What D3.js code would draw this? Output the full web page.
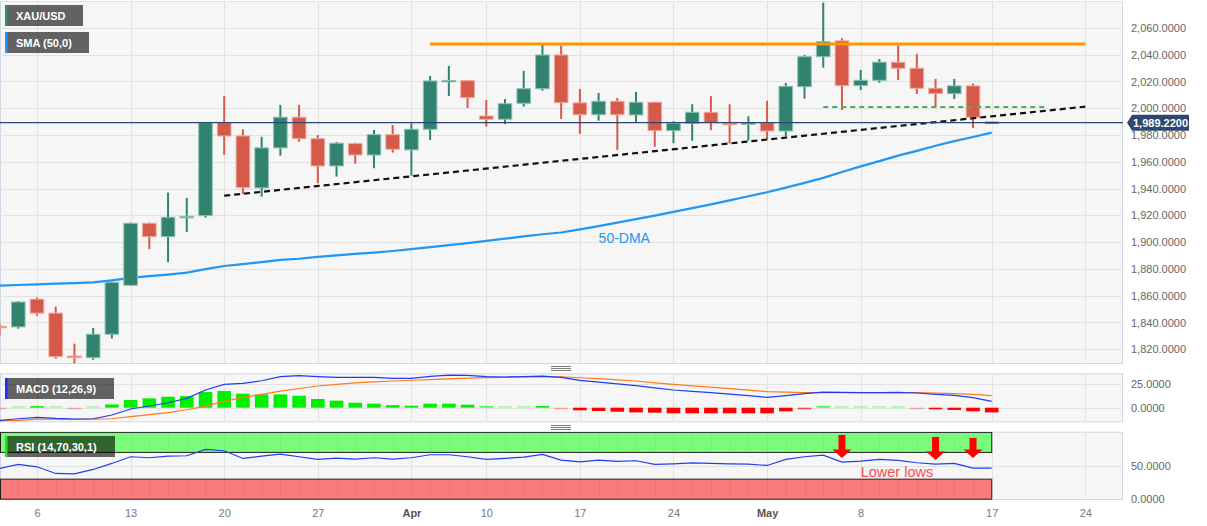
<!DOCTYPE html>
<html><head><meta charset="utf-8">
<script src="https://cdn.jsdelivr.net/npm/d3@7"></script>
<style>
html,body{margin:0;padding:0;background:#fff;}
svg{display:block;font-family:"Liberation Sans",Arial,sans-serif;}
</style></head>
<body><svg id="c" width="1207" height="526"></svg>
<script>
// ---------------- DATA ----------------
const dates = ["2023-03-02","2023-03-03","2023-03-06","2023-03-07","2023-03-08","2023-03-09","2023-03-10",
"2023-03-13","2023-03-14","2023-03-15","2023-03-16","2023-03-17","2023-03-20","2023-03-21","2023-03-22","2023-03-23","2023-03-24",
"2023-03-27","2023-03-28","2023-03-29","2023-03-30","2023-03-31","2023-04-03","2023-04-04","2023-04-05","2023-04-06",
"2023-04-10","2023-04-11","2023-04-12","2023-04-13","2023-04-14","2023-04-17","2023-04-18","2023-04-19","2023-04-20","2023-04-21",
"2023-04-24","2023-04-25","2023-04-26","2023-04-27","2023-04-28","2023-05-01","2023-05-02","2023-05-03","2023-05-04","2023-05-05",
"2023-05-08","2023-05-09","2023-05-10","2023-05-11","2023-05-12","2023-05-15","2023-05-16","2023-05-17"];
const futureDates = ["2023-05-18","2023-05-19","2023-05-22","2023-05-23","2023-05-24"];

const open  = [1837.2,1836.7,1857.4,1847.0,1814.9,1813.7,1831.2,1867.8,1914.1,1904.1,1918.6,1919.8,1989.2,1979.3,1940.5,1970.4,1993.3,
1977.3,1956.9,1973.6,1965.1,1980.3,1968.9,1984.3,2020.2,2020.6,1994.2,1991.8,2003.7,2014.6,2039.8,2004.0,1995.2,2005.2,1995.0,2004.5,
1983.3,1988.8,1997.0,1988.8,1988.0,1989.2,1983.0,2016.1,2038.5,2050.3,2016.9,2020.9,2034.4,2029.9,2014.9,2010.9,2016.7,1989.22];
const high  = [1839.4,1856.0,1858.6,1851.8,1824.2,1835.9,1870.5,1914.6,1914.6,1937.0,1933.0,1989.5,2009.2,1984.3,1978.6,2002.5,2002.5,
1980.0,1974.8,1974.3,1983.8,1987.5,1988.8,2024.1,2031.6,2021.1,2006.2,2006.9,2027.9,2047.3,2046.8,2014.4,2011.4,2007.7,2012.2,2004.7,
1990.3,2003.0,2009.0,2003.0,1994.0,2005.5,2018.9,2039.8,2078.9,2052.3,2028.6,2036.8,2046.8,2040.6,2021.9,2021.9,2018.4,1989.22];
const low   = [1830.2,1835.4,1845.1,1813.0,1809.5,1812.2,1828.0,1867.3,1894.9,1885.2,1907.6,1918.3,1965.3,1935.8,1934.0,1964.6,1975.0,
1944.0,1949.0,1958.6,1955.2,1966.8,1949.7,1976.3,2009.2,2000.2,1986.3,1988.3,2001.2,2013.1,1992.0,1980.8,1990.7,1968.9,1989.8,1971.3,
1973.9,1975.8,1983.6,1973.6,1975.8,1977.1,1978.8,2007.2,2030.3,1998.7,2013.7,2019.1,2021.1,2010.7,2000.7,2006.9,1985.3,1989.22];
const close = [1836.6,1855.3,1847.0,1814.5,1814.2,1831.2,1870.0,1914.1,1904.1,1918.6,1919.3,1989.2,1979.3,1940.7,1970.4,1993.3,1977.3,
1956.9,1973.9,1965.1,1980.3,1969.4,1984.3,2020.4,2020.8,2007.9,1991.8,2003.4,2014.6,2039.8,2004.2,1995.2,2005.2,1995.2,2004.5,1983.3,
1988.8,1997.0,1989.2,1988.0,1989.0,1983.0,2016.4,2038.5,2049.7,2016.9,2020.9,2034.4,2029.9,2014.9,2010.9,2016.7,1993.3,1989.22];

const sma50 = [1867.5,1868.0,1868.5,1869.0,1869.4,1870.0,1871.5,1873.3,1874.6,1875.8,1877.2,1879.8,1882.2,1883.6,1885.1,1886.8,1887.6,
1889.0,1890.1,1891.2,1892.2,1893.4,1894.8,1896.3,1897.8,1899.3,1900.9,1902.6,1904.3,1905.9,1907.2,1909.5,1912.0,1914.6,1917.2,1919.8,
1922.6,1925.4,1928.2,1931.2,1934.3,1937.3,1940.7,1944.3,1948.0,1952.4,1956.6,1960.5,1964.6,1968.2,1972.0,1975.4,1978.5,1981.8];

const macdLine = [-13.5,-11.8,-10.3,-11.5,-12.1,-11.8,-7.8,-1.4,1.8,5.3,10.0,18.9,24.9,26.0,28.8,33.1,34.2,
33.1,32.4,32.4,32.4,31.3,31.3,33.5,34.9,34.5,33.1,32.8,33.1,33.8,32.4,29.2,27.4,25.5,23.5,21.2,
18.9,17.5,16.0,14.5,12.8,11.0,12.8,15.0,16.7,16.3,16.0,16.0,16.4,15.7,14.2,13.2,10.7,6.8];
const signalLine = [-13.8,-13.5,-12.2,-12.3,-12.4,-12.3,-11.8,-9.6,-7.5,-5.2,-2.2,1.6,6.8,11.0,14.2,17.8,20.5,
23.2,25.0,26.6,27.6,28.5,29.3,29.9,30.9,31.6,32.2,32.5,32.8,33.0,32.9,32.0,31.0,29.8,28.5,26.6,
24.9,23.4,21.9,20.3,18.7,17.1,16.7,16.2,16.2,16.1,16.1,16.0,16.0,16.0,15.6,15.0,14.2,12.8];
const histogram = [-0.5,0.5,1.5,0.3,-0.3,0.3,3.5,8.2,10.0,11.7,12.4,16.7,17.8,15.0,14.2,14.2,12.8,
9.3,7.5,5.3,4.3,2.8,2.1,4.3,4.3,3.2,1.0,0.3,0.2,1.8,-0.5,-2.8,-3.5,-4.3,-5.0,-5.3,
-6.0,-6.0,-6.0,-6.0,-6.0,-6.0,-3.9,-1.0,0.8,0.3,0.0,0.2,0.2,-0.5,-1.7,-2.4,-3.9,-5.0];

const rsi = [46,52,48.5,38.5,38,44.5,53.5,63.5,62,64.5,65,74.5,72.5,61,64.5,67.5,63.5,
59.5,61.5,60,62,60,62,66.5,66.5,63.5,59.5,61,63,67,58.5,56,58.5,56.5,57.5,52,
53,54.5,53.5,53,52.5,50.5,59.5,63.5,66,55.5,57,59.5,58,54.5,52.5,53.5,46.5,46.5];

const priceTicks = [1820,1840,1860,1880,1900,1920,1940,1960,1980,2000,2020,2040,2060];
const macdTicks = [0,25];
const rsiTicks = [0,50];
const tickDates = ["2023-03-06","2023-03-13","2023-03-20","2023-03-27","2023-04-03","2023-04-10","2023-04-17","2023-04-24","2023-05-01","2023-05-08","2023-05-17","2023-05-24"];
const tickLabels = ["6","13","20","27","Apr","10","17","24","May","8","17","24"];

const lastPrice = 1989.22;
const resistance = {from:"2023-04-04", to:"2023-05-24", value:2048};
const trendline = {from:"2023-03-20", to:"2023-05-24", v0:1934.7, v1:2001.2};
const support = {from:"2023-05-04", to:"2023-05-22", value:2001};
const arrowDates = ["2023-05-05","2023-05-12","2023-05-16"];
const arrowTop = [96,93,91.5];
const arrowTip = [61.5,58.5,61.5];

// ---------------- LAYOUT ----------------
const svg = d3.select("#c");
const L = 0, R = 1123;
const P = {main:[1,364], macd:[373.3,422.3], rsi:[431.7,500]};
const allDates = dates.concat(futureDates);
const step = 18.72;
const x = d3.scalePoint().domain(allDates).range([37-2*step, 37-2*step+(allDates.length-1)*step]);
const bw = 13.6;

const yMain = d3.scaleLinear().domain([1809, 2080.1]).range([P.main[1], P.main[0]]);
const yMacd = d3.scaleLinear().domain([-15.6, 36.75]).range([P.macd[1], P.macd[0]]);
const yRsi = d3.scaleLinear().domain([-1.2, 101]).range([P.rsi[1], P.rsi[0]]);

const BG = "#f6f6f6", BORDER = "#cfd6e4", GRID = "#e2e2e2";
const GREEN = "#31826f", RED = "#d65a49", NAVY = "#2c4870";

const defs = svg.append("defs");
function panel(name, top, bottom){
  defs.append("clipPath").attr("id","clip-"+name).append("rect")
    .attr("x",L).attr("y",top).attr("width",R-L).attr("height",bottom-top);
  svg.append("rect").attr("x",L+0.5).attr("y",top+0.5).attr("width",R-L-1).attr("height",bottom-top-1)
    .attr("fill",BG).attr("stroke",BORDER);
  const g = svg.append("g").attr("clip-path","url(#clip-"+name+")");
  g.selectAll("line.vg").data(tickDates).join("line").attr("class","vg")
    .attr("x1",d=>Math.round(x(d))+0.5).attr("x2",d=>Math.round(x(d))+0.5)
    .attr("y1",top).attr("y2",bottom).attr("stroke",GRID).attr("stroke-width",1);
  return g;
}

// ---------- MAIN PANEL ----------
const gm = panel("main", P.main[0], P.main[1]);
gm.selectAll("line.hg").data(priceTicks.concat([2080])).join("line").attr("class","hg")
  .attr("x1",L).attr("x2",R).attr("y1",d=>Math.round(yMain(d))+0.5).attr("y2",d=>Math.round(yMain(d))+0.5)
  .attr("stroke",GRID);

// SMA
gm.append("path").datum(sma50.map((v,i)=>[dates[i],v]))
  .attr("d", d3.line().x(d=>x(d[0])).y(d=>yMain(d[1])))
  .attr("fill","none").attr("stroke","#2196f3").attr("stroke-width",2.2);

// candles
const candles = dates.map((d,i)=>({d, o:open[i], h:high[i], l:low[i], c:close[i], last:i===dates.length-1}));
const cg = gm.append("g");
cg.selectAll("line.wick").data(candles.filter(c=>!c.last)).join("line").attr("class","wick")
  .attr("x1",c=>x(c.d)).attr("x2",c=>x(c.d)).attr("y1",c=>yMain(c.h)).attr("y2",c=>yMain(c.l))
  .attr("stroke",c=>c.c>=c.o?GREEN:RED).attr("stroke-width",2);
cg.selectAll("rect.body").data(candles).join("rect").attr("class","body")
  .attr("x",c=>x(c.d)-bw/2).attr("width",bw)
  .attr("y",c=>Math.min(yMain(c.o),yMain(c.c)) - (c.last?1:0))
  .attr("height",c=>c.last?2:Math.max(1.5,Math.abs(yMain(c.o)-yMain(c.c))))
  .attr("fill",c=>c.last?NAVY:(c.c>=c.o?GREEN:RED))
  .attr("stroke",c=>c.last?"none":(c.c>=c.o?"#8cc3b5":"#eea89d")).attr("stroke-width",1);

// resistance (orange)
gm.append("line").attr("x1",x(resistance.from)).attr("x2",x(resistance.to))
  .attr("y1",yMain(resistance.value)).attr("y2",yMain(resistance.value))
  .attr("stroke","#ff9800").attr("stroke-width",3);
// green dashed support
gm.append("line").attr("x1",x(support.from)).attr("x2",x(support.to))
  .attr("y1",yMain(support.value)).attr("y2",yMain(support.value))
  .attr("stroke","#4caf50").attr("stroke-width",2).attr("stroke-dasharray","5,4");
// black dashed trendline
gm.append("line").attr("x1",x(trendline.from)).attr("x2",x(trendline.to))
  .attr("y1",yMain(trendline.v0)).attr("y2",yMain(trendline.v1))
  .attr("stroke","#111").attr("stroke-width",2.2).attr("stroke-dasharray","6,4");
// last price line
gm.append("line").attr("x1",L).attr("x2",R)
  .attr("y1",yMain(lastPrice)).attr("y2",yMain(lastPrice))
  .attr("stroke",NAVY).attr("stroke-width",1.2);

// 50-DMA label
svg.append("text").attr("x",x("2023-04-18")).attr("y",yMain(1899.5))
  .attr("fill","#2196f3").attr("font-size","14px").text("50-DMA");

// legends
function legend(y, w, h, stripe, label){
  svg.append("rect").attr("x",5).attr("y",y).attr("width",w).attr("height",h).attr("fill","rgba(0,0,0,0.6)");
  svg.append("rect").attr("x",5).attr("y",y).attr("width",2.5).attr("height",h).attr("fill",stripe);
  svg.append("text").attr("x",16).attr("y",y+h/2+4).attr("fill","#fff")
    .attr("font-size","11px").attr("font-weight","bold").text(label);
}

// price axis
const ax = svg.append("g").attr("transform",`translate(${R},0)`)
  .call(d3.axisRight(yMain).tickValues(priceTicks).tickFormat(d3.format(",.4f")).tickSize(0).tickPadding(8));
ax.select(".domain").remove();
ax.selectAll("text").attr("fill","#666").attr("font-size","11px").attr("font-family","Liberation Sans, Arial, sans-serif");

// price tag
const ty = yMain(lastPrice);
svg.append("path").attr("d",`M1127,${ty} L1132,${ty-8} L1189,${ty-8} L1189,${ty+8} L1132,${ty+8} Z`).attr("fill",NAVY);
svg.append("text").attr("x",1160.5).attr("y",ty+4).attr("text-anchor","middle").attr("fill","#fff")
  .attr("font-size","11px").attr("font-weight","bold").text(d3.format(",.4f")(lastPrice));

// ---------- MACD PANEL ----------
const gd = panel("macd", P.macd[0], P.macd[1]);
gd.selectAll("line.hg").data(macdTicks).join("line").attr("class","hg")
  .attr("x1",L).attr("x2",R).attr("y1",d=>Math.round(yMacd(d))+0.5).attr("y2",d=>Math.round(yMacd(d))+0.5)
  .attr("stroke",GRID);
gd.selectAll("rect.hist").data(histogram.map((v,i)=>({d:dates[i],v}))).join("rect").attr("class","hist")
  .attr("x",h=>x(h.d)-bw/2).attr("width",bw)
  .attr("y",h=>{const hh=Math.max(1.6,Math.abs(yMacd(h.v)-yMacd(0))); return h.v>=0?yMacd(0)-hh:yMacd(0);})
  .attr("height",h=>Math.max(1.6,Math.abs(yMacd(h.v)-yMacd(0))))
  .attr("fill",h=>h.v>=0?"#00f000":"#ff0000")
  .attr("opacity",h=>Math.abs(h.v)>=1.5?1:(Math.abs(h.v)>=0.7?0.7:0.3));
gd.append("path").datum(signalLine.map((v,i)=>[dates[i],v]))
  .attr("d", d3.line().x(d=>x(d[0])).y(d=>yMacd(d[1])))
  .attr("fill","none").attr("stroke","#ff7a1a").attr("stroke-width",1.2);
gd.append("path").datum(macdLine.map((v,i)=>[dates[i],v]))
  .attr("d", d3.line().x(d=>x(d[0])).y(d=>yMacd(d[1])))
  .attr("fill","none").attr("stroke","#1f3cf5").attr("stroke-width",1.2);
const axm = svg.append("g").attr("transform",`translate(${R},0)`)
  .call(d3.axisRight(yMacd).tickValues(macdTicks).tickFormat(d3.format(",.4f")).tickSize(0).tickPadding(8));
axm.select(".domain").remove();
axm.selectAll("text").attr("fill","#666").attr("font-size","11px").attr("font-family","Liberation Sans, Arial, sans-serif");

// ---------- RSI PANEL ----------
const gr = panel("rsi", P.rsi[0], P.rsi[1]);
gr.selectAll("line.hg").data([50]).join("line").attr("class","hg")
  .attr("x1",L).attr("x2",R).attr("y1",d=>Math.round(yRsi(d))+0.5).attr("y2",d=>Math.round(yRsi(d))+0.5)
  .attr("stroke",GRID);
const xEnd = x(dates[dates.length-1]);
gr.append("rect").attr("x",0.5).attr("y",yRsi(100)).attr("width",xEnd-0.5).attr("height",yRsi(70)-yRsi(100))
  .attr("fill","rgb(122,251,122)").attr("stroke","#222").attr("stroke-width",1);
gr.append("rect").attr("x",0.5).attr("y",yRsi(30)).attr("width",xEnd-0.5).attr("height",yRsi(0)-yRsi(30))
  .attr("fill","rgb(251,122,122)").attr("stroke","#222").attr("stroke-width",1);
gr.selectAll("line.dl").data(dates.slice(0,-1)).join("line").attr("class","dl")
  .attr("x1",d=>Math.round(x(d))+0.5).attr("x2",d=>Math.round(x(d))+0.5)
  .attr("y1",yRsi(30)+1).attr("y2",yRsi(0)-1).attr("stroke","rgba(0,0,0,0.05)");
gr.selectAll("line.dl2").data(dates.slice(0,-1)).join("line").attr("class","dl2")
  .attr("x1",d=>Math.round(x(d))+0.5).attr("x2",d=>Math.round(x(d))+0.5)
  .attr("y1",yRsi(100)+1).attr("y2",yRsi(70)-1).attr("stroke","rgba(0,0,0,0.04)");
gr.append("path").datum(rsi.map((v,i)=>[dates[i],v]))
  .attr("d", d3.line().x(d=>x(d[0])).y(d=>yRsi(d[1])))
  .attr("fill","none").attr("stroke","#2040f0").attr("stroke-width",1.2);
// arrows
arrowDates.forEach((d,i)=>{
  const cx = x(d), t = yRsi(arrowTop[i]), tip = yRsi(arrowTip[i]), hs = tip-8.5;
  svg.append("path").attr("d",`M${cx-3.5},${t} L${cx+3.5},${t} L${cx+3.5},${hs} L${cx+9.5},${hs} L${cx},${tip} L${cx-9.5},${hs} L${cx-3.5},${hs} Z`)
    .attr("fill","#ff0000");
});
svg.append("text").attr("x",x("2023-05-08")).attr("y",yRsi(33))
  .attr("fill","#ff4a4a").attr("font-size","14.5px").text("Lower lows");
const axr = svg.append("g").attr("transform",`translate(${R},0)`)
  .call(d3.axisRight(yRsi).tickValues(rsiTicks).tickFormat(d3.format(",.4f")).tickSize(0).tickPadding(8));
axr.select(".domain").remove();
axr.selectAll("text").attr("fill","#666").attr("font-size","11px").attr("font-family","Liberation Sans, Arial, sans-serif");

// legends (after panels)
legend(5, 78, 21, "#2e8b74", "XAU/USD");
legend(32, 84, 21, "#2196f3", "SMA (50,0)");
legend(378, 109, 21, "#1a2cff", "MACD (12,26,9)");
legend(436, 110, 21, "#22e022", "RSI (14,70,30,1)");

// panel handles
[[366.5,368.5,370.5],[425.5,427.5,429.5]].forEach(ys=>ys.forEach(yy=>{
  svg.append("line").attr("x1",551).attr("x2",571).attr("y1",yy).attr("y2",yy).attr("stroke","#7a7a7a").attr("stroke-width",1);
}));

// x axis
const xa = svg.append("g").attr("transform","translate(0,506)")
  .call(d3.axisBottom(x).tickValues(tickDates).tickFormat((d,i)=>tickLabels[i]).tickSize(0).tickPadding(3));
xa.select(".domain").remove();
xa.selectAll("text").attr("font-size","11px").attr("font-family","Liberation Sans, Arial, sans-serif")
  .attr("fill",(d,i)=>/[A-Za-z]/.test(tickLabels[i])?"#555":"#777")
  .attr("font-weight",(d,i)=>/[A-Za-z]/.test(tickLabels[i])?"bold":"normal");
</script>
</body></html>
